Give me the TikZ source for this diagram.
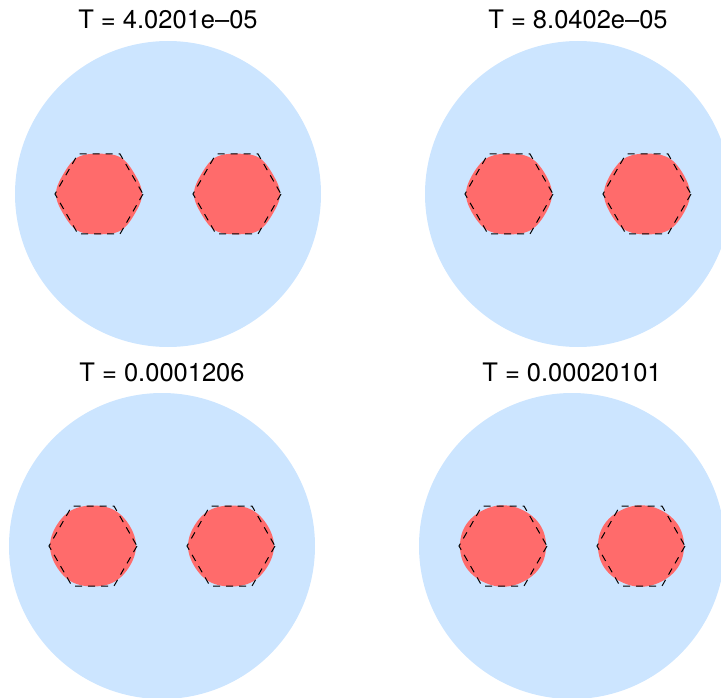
\documentclass[tikz,border=0pt]{standalone}
\usepackage{fontspec}
\setmainfont{TeX Gyre Heros}
\definecolor{bgblue}{HTML}{CCE5FF}
\definecolor{hexred}{HTML}{FF6B6B}
\tikzset{
  ttl/.style={anchor=base, font=\fontsize{25.5}{30}\selectfont, inner sep=0pt},
  disc/.style={fill=bgblue},
  blob/.style={fill=hexred},
  outline/.style={draw=black, line width=1pt, dash pattern=on 7pt off 6pt},
  declare function={
    hexn(\t,\p)=1/((abs(cos(\t-30))+0.0001)^\p+(abs(cos(\t-90))+0.0001)^\p+(abs(cos(\t-150))+0.0001)^\p)^(1/\p);
  }
}
\newcommand\hexpath[2]{(#1+44,#2) -- (#1+21,#2+40) -- (#1-21,#2+40) -- (#1-44,#2) -- (#1-21,#2-40) -- (#1+21,#2-40) -- cycle}
% center x, center y, half width, half height, exponent
\newcommand\blobpath[5]{plot[smooth cycle, variable=\t, domain=0:357.5, samples=144]
  ({#1 + #3*hexn(\t,#5)*cos(\t)/hexn(0,#5)},
   {#2 + #4*hexn(\t,#5)*sin(\t)/hexn(90,#5)})}
\newcommand\mypanel[6]{%
  \fill[disc] (#1,#2) circle (153);
  \fill[blob] \blobpath{#1-69}{#2}{43}{#6}{#4};
  \fill[blob] \blobpath{#1+69}{#2}{43}{#6}{#4};
  \draw[outline] \hexpath{#1-69}{#2};
  \draw[outline] \hexpath{#1+69}{#2};
  \node[ttl] (#5) at (#1,#2-165) {#3};
}
\begin{document}
\begin{tikzpicture}[x=1pt,y=-1pt]
\useasboundingbox (0,0) rectangle (721,698);
\begin{scope}
\clip (0,0) rectangle (721,698);
\mypanel{168}{194}{T = 4.0201e–05}{7}{t1}{40.3}
\mypanel{578}{194}{T = 8.0402e–05}{6}{t2}{40.4}
\mypanel{162}{546}{T = 0.0001206}{5}{t3}{40.5}
\mypanel{572}{546}{T = 0.00020101}{3.5}{t4}{40.7}
\end{scope}
\end{tikzpicture}
\end{document}
